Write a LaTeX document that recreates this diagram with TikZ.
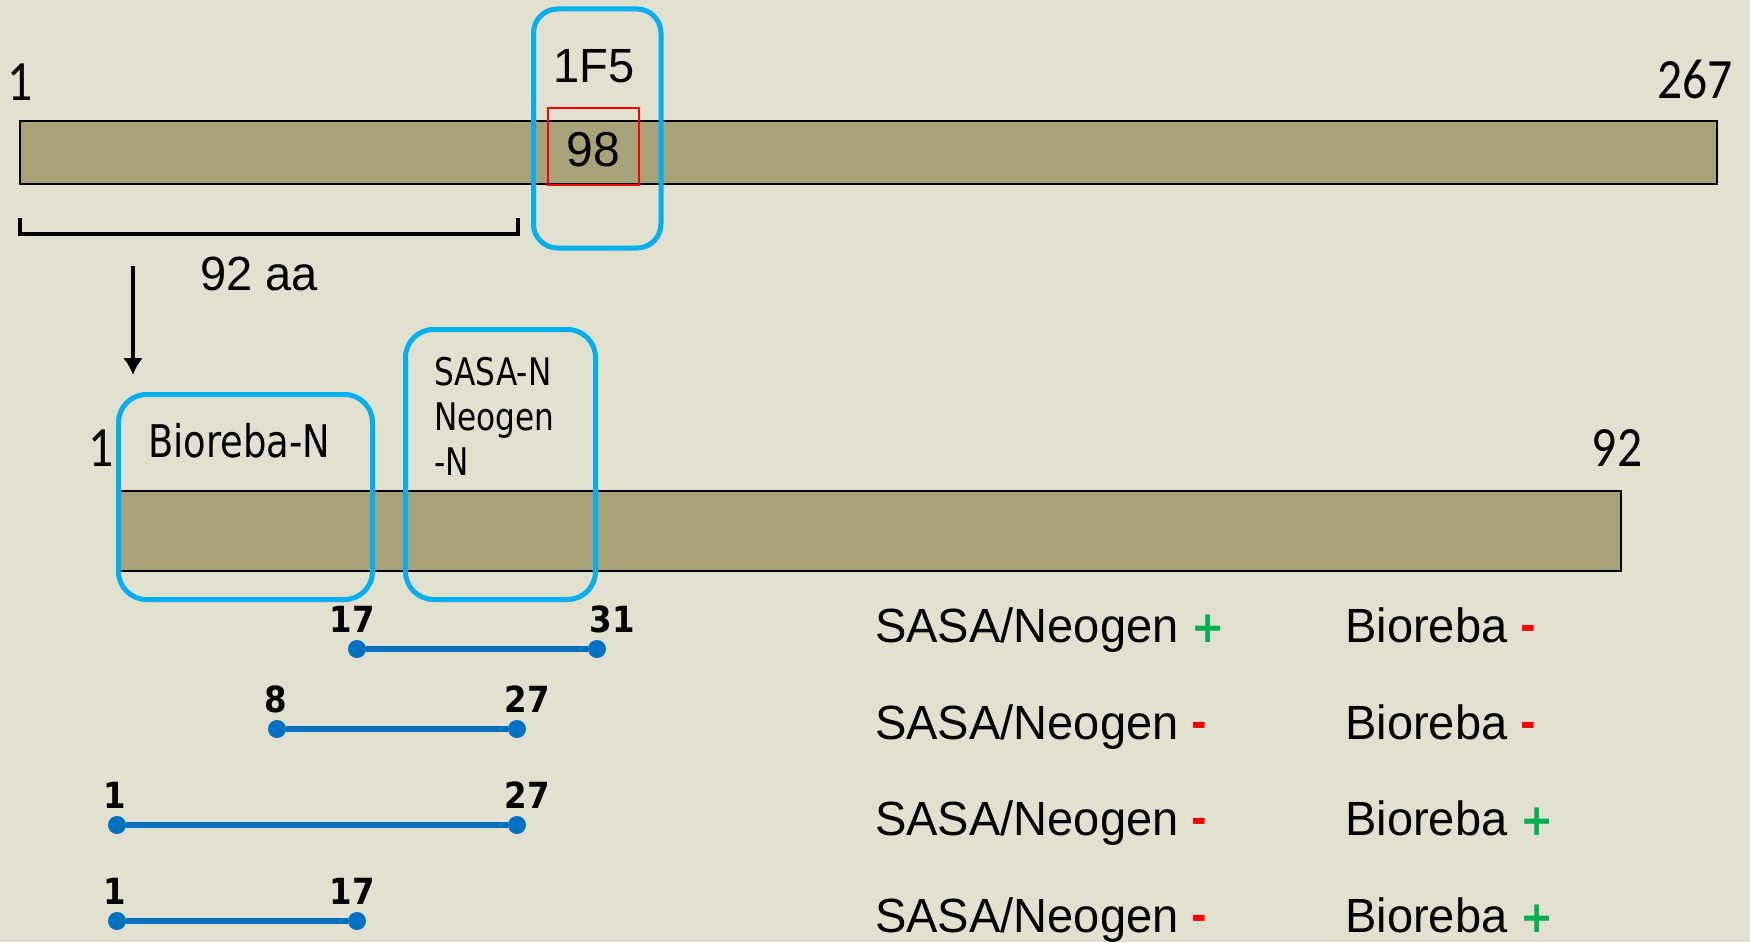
\documentclass[tikz,border=0pt]{standalone}
\usepackage{fontspec}
\setmainfont{Liberation Sans}[FakeStretch=0.98]
\newfontfamily\calfont{Carlito}[FakeStretch=0.87]
\newfontfamily\tahfont{DejaVu Sans}[FakeStretch=0.82]
\newfontfamily\numfont{DejaVu Sans}[FakeStretch=0.9]
\usetikzlibrary{arrows.meta}

\definecolor{slide}{HTML}{E2E0CE}
\definecolor{protein}{HTML}{A8A279}
\definecolor{boxblue}{HTML}{00B0F0}
\definecolor{pepblue}{HTML}{0070C0}
\definecolor{plusgreen}{HTML}{00B050}
\definecolor{minusred}{HTML}{FF0000}

% test results after each kit name
\newcommand{\plusmark}{{\numfont\bfseries\fontsize{44}{44}\selectfont\color{plusgreen}+}}
\newcommand{\minusmark}{{\numfont\bfseries\fontsize{42}{42}\selectfont\color{minusred}\raisebox{2pt}{-}}}

\begin{document}
\begin{tikzpicture}[x=1pt,y=-1pt,
    txt/.style={inner sep=0pt},
    bar/.style={fill=protein,draw=black,line width=2pt},
    epitope/.style={draw=boxblue,line width=5pt,rounded corners=26pt},
    pep/.style={draw=pepblue,line width=5.5pt},
    dot/.style={circle,fill=pepblue,inner sep=0pt,minimum size=18pt},
    pepnum/.style={inner sep=0pt,font=\numfont\bfseries\fontsize{36}{36}\selectfont}]
    \fill[slide] (0,0) rectangle (1750,942);
    \useasboundingbox (0,0) rectangle (1750,942);

    % whole protein, 267 aa
    \draw[bar] (20,121) rectangle (1717,184);
    \node[txt,anchor=base,font=\calfont\fontsize{57}{57}\selectfont] (first) at (20,100) {1};
    \node[txt,anchor=base,font=\calfont\fontsize{57}{57}\selectfont] (last) at (1695,99) {267};
    \draw[minusred,line width=2pt] (547.5,107.5) rectangle (638.5,184.5);
    \node[txt,anchor=base,font=\fontsize{49}{49}\selectfont] (pos98) at (593,166) {98};
    \draw[epitope,rounded corners=24pt] (533.5,9) rectangle (661,248);
    \node[txt,anchor=base,font=\fontsize{48}{48}\selectfont] (mab) at (594,82) {1F5};

    % the N-terminal part
    \draw[line width=3.5pt] (20,218) -- (20,234) -- (518,234) -- (518,218);
    \node[txt,anchor=base,font=\fontsize{48}{48}\selectfont] (len) at (259,290) {92 aa};
    \coordinate (arrtop) at (133,266);
    \coordinate (arrtip) at (133,375);
    \draw[line width=4.5pt,-{Latex[length=17pt,width=20pt]}] (arrtop) -- (arrtip);

    % N-terminal fragment, 92 aa
    \draw[bar] (117,491) rectangle (1621,571);
    \node[txt,anchor=base,font=\calfont\fontsize{57}{57}\selectfont] (nfirst) at (101,466) {1};
    \node[txt,anchor=base,font=\calfont\fontsize{57}{57}\selectfont] (nlast) at (1617,466) {92};
    \draw[epitope,rounded corners=28pt] (118.5,394.5) rectangle (372.5,599.5);
    \draw[epitope,rounded corners=28pt] (405.5,329.5) rectangle (595.5,599.5);
    \node[txt,anchor=base west,font=\tahfont\fontsize{45}{45}\selectfont] (bioN) at (148,457) {Bioreba-N};
    \node[txt,anchor=base west,align=left,font=\tahfont\fontsize{38}{45}\selectfont] (sasaN) at (434,475) {SASA-N\\Neogen\\-N};

    % peptides
    \foreach \xa/\xb/\y/\na/\nb/\la/\lb in {357/597/649/17/31/352/612, 277/517/729/8/27/276/527,
        117/517/825/1/27/115/527, 117/357/921/1/17/115/352}
    {
        \node[dot] (a\y) at (\xa,\y) {};
        \node[dot] (b\y) at (\xb,\y) {};
        \draw[pep] (a\y) -- (b\y);
        \node[pepnum] (la\y) at (\la,\y-30) {\na};
        \node[pepnum] (lb\y) at (\lb,\y-30) {\nb};
    }

    % ELISA results
    \foreach \y/\sa/\sb in {642/\plusmark/\minusmark, 739/\minusmark/\minusmark,
        835/\minusmark/\plusmark, 932/\minusmark/\plusmark}
    {
        \node[txt,anchor=base west,font=\fontsize{48}{48}\selectfont] (sasa\y) at (875,\y) {SASA/Neogen \sa};
        \node[txt,anchor=base west,font=\fontsize{48}{48}\selectfont] (bio\y) at (1345,\y) {Bioreba \sb};
    }
\end{tikzpicture}
\end{document}
